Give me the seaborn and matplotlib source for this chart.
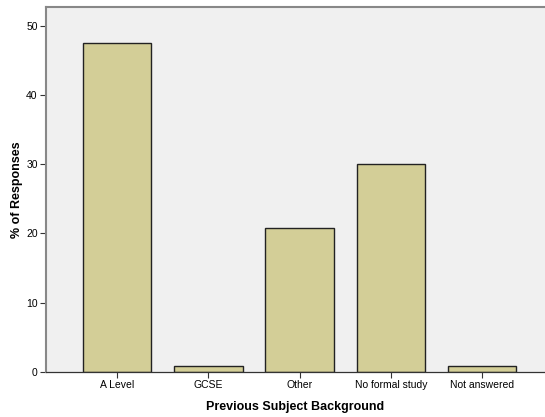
import matplotlib
matplotlib.use("Agg")
import matplotlib.pyplot as plt
import seaborn as sns
import pandas as pd

categories = ["A Level", "GCSE", "Other", "No formal study", "Not answered"]
percent = [47.5, 0.8, 20.8, 30.0, 0.8]

df = pd.DataFrame({"cat": categories, "pct": percent})

sns.set_style("white")
plt.rcParams['font.family'] = ['Liberation Sans', 'DejaVu Sans']
plt.rcParams['text.color'] = 'black'
plt.rcParams['axes.labelcolor'] = 'black'
plt.rcParams['xtick.color'] = 'black'
plt.rcParams['ytick.color'] = 'black'

fig = plt.figure(figsize=(5.45, 4.17), dpi=100)
ax = fig.add_axes([0.0844, 0.108, 0.9156, 0.875])
ax.set_facecolor("#F0F0F0")

sns.barplot(data=df, x="cat", y="pct", ax=ax, color="#D3CE97",
            edgecolor="#222222", linewidth=1.0, width=0.75, saturation=1)

ax.set_xlim(-0.78, 4.69)
ax.set_ylim(0, 52.7)
ax.set_yticks([0, 10, 20, 30, 40, 50])
ax.tick_params(axis="both", direction="out", length=4, width=0.8,
               color="#333333", labelcolor="black", labelsize=7.5, pad=2,
               left=True, bottom=True)
ax.set_xlabel("Previous Subject Background", fontsize=9, fontweight="bold",
              labelpad=8, color="black")
ax.set_ylabel("% of Responses", fontsize=9, fontweight="bold", labelpad=2,
              color="black")

for s in ["left", "top"]:
    ax.spines[s].set_color("#888888")
    ax.spines[s].set_linewidth(1.5)
ax.spines["bottom"].set_color("#333333")
ax.spines["bottom"].set_linewidth(0.9)
ax.spines["right"].set_visible(False)

fig.savefig("out.png", dpi=100, facecolor="white")
